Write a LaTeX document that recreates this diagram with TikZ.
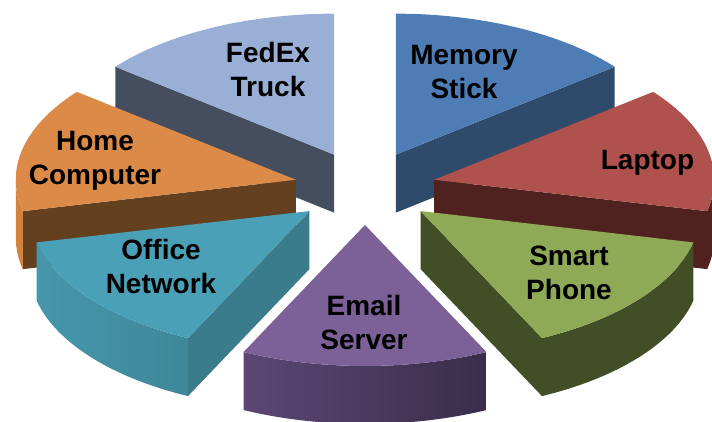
\documentclass[tikz,border=0pt]{standalone}
\usepackage{fontspec}
\setmainfont{Liberation Sans}

% slice colours: top face, cut face, rim
\definecolor{memtop}{HTML}{4E7DB6}
\definecolor{memcut}{HTML}{2F4B6C}
\definecolor{laptop}{HTML}{AF514C}
\definecolor{lapcut}{HTML}{50221F}
\definecolor{smarttop}{HTML}{8FAA57}
\definecolor{smartcut}{HTML}{414E26}
\definecolor{mailtop}{HTML}{7C6198}
\definecolor{mailrimA}{HTML}{5B4774}
\definecolor{mailrimB}{HTML}{3A2D4A}
\definecolor{offtop}{HTML}{4AA1B7}
\definecolor{offcut}{HTML}{3B7C8C}
\definecolor{offrimA}{HTML}{4597AC}
\definecolor{offrimB}{HTML}{3A7A8A}
\definecolor{hometop}{HTML}{DB8A47}
\definecolor{homecut}{HTML}{64401F}
\definecolor{homerim}{HTML}{D2833F}
\definecolor{fedtop}{HTML}{9AAFD5}
\definecolor{fedcut}{HTML}{454E5E}

% pie height (in pt); radii are 280 and 141
\def\pieh{58}

\begin{document}
\begin{tikzpicture}[x=1pt, y=1pt, x radius=280, y radius=141,
    lbl/.style={font=\bfseries\fontsize{28}{34}\selectfont, align=center, text=black}]
    \useasboundingbox (-365,-234) rectangle (347,188);

    % apex of each slice, pushed out along its middle angle
    \coordinate (mem)   at (64.286:71 and 37);
    \coordinate (lap)   at (12.857:71 and 37);
    \coordinate (smart) at (-38.571:71 and 37);
    \coordinate (mail)  at (-90:71 and 37);
    \coordinate (off)   at (-141.429:71 and 37);
    \coordinate (home)  at (167.143:71 and 37);
    \coordinate (fed)   at (115.714:71 and 37);

    % Memory Stick
    \fill[memcut] (mem) -- ++(38.571:280 and 141) -- ++(0,-\pieh) -- ([yshift=-\pieh pt]mem) -- cycle;
    \fill[memtop] (mem) -- ++(90:280 and 141) arc[start angle=90, end angle=38.571] -- cycle;

    % FedEx Truck
    \fill[fedcut] (fed) -- ++(141.429:280 and 141) -- ++(0,-\pieh) -- ([yshift=-\pieh pt]fed) -- cycle;
    \fill[fedtop] (fed) -- ++(141.429:280 and 141) arc[start angle=141.429, end angle=90] -- cycle;

    % Laptop
    \fill[lapcut] (lap) -- ++(-12.857:280 and 141) -- ++(0,-\pieh) -- ([yshift=-\pieh pt]lap) -- cycle;
    \fill[lapcut] (lap) ++(0:280 and 141) arc[start angle=0, end angle=-12.857]
        -- ++(0,-\pieh) arc[start angle=-12.857, end angle=0] -- cycle;
    \fill[laptop] (lap) -- ++(38.571:280 and 141) arc[start angle=38.571, end angle=-12.857] -- cycle;

    % Home Computer
    \fill[homecut] (home) -- ++(192.857:280 and 141) -- ++(0,-\pieh) -- ([yshift=-\pieh pt]home) -- cycle;
    \fill[homerim] (home) ++(192.857:280 and 141) arc[start angle=192.857, end angle=180]
        -- ++(0,-\pieh) arc[start angle=180, end angle=192.857] -- cycle;
    \fill[hometop] (home) -- ++(192.857:280 and 141) arc[start angle=192.857, end angle=141.429] -- cycle;

    % Office Network
    \fill[offcut] (off) -- ++(-115.714:280 and 141) -- ++(0,-\pieh) -- ([yshift=-\pieh pt]off) -- cycle;
    \path[left color=offrimA, right color=offrimB] (off) ++(-115.714:280 and 141)
        arc[start angle=-115.714, end angle=-167.143]
        -- ++(0,-\pieh) arc[start angle=-167.143, end angle=-115.714] -- cycle;
    \fill[offtop] (off) -- ++(-115.714:280 and 141) arc[start angle=-115.714, end angle=-167.143] -- cycle;

    % Smart Phone
    \fill[smartcut] (smart) -- ++(-64.286:280 and 141) -- ++(0,-\pieh) -- ([yshift=-\pieh pt]smart) -- cycle;
    \fill[smartcut] (smart) ++(-12.857:280 and 141) arc[start angle=-12.857, end angle=-64.286]
        -- ++(0,-\pieh) arc[start angle=-64.286, end angle=-12.857] -- cycle;
    \fill[smarttop] (smart) -- ++(-12.857:280 and 141) arc[start angle=-12.857, end angle=-64.286] -- cycle;

    % Email Server
    \path[left color=mailrimA, right color=mailrimB] (mail) ++(-64.286:280 and 141)
        arc[start angle=-64.286, end angle=-115.714]
        -- ++(0,-\pieh) arc[start angle=-115.714, end angle=-64.286] -- cycle;
    \fill[mailtop] (mail) -- ++(-64.286:280 and 141) arc[start angle=-64.286, end angle=-115.714] -- cycle;

    % Labels
    \node[lbl] (memlbl)   at (99,115.5)   {Memory\\Stick};
    \node[lbl] (laplbl)   at (282.5,25.5) {Laptop};
    \node[lbl] (smartlbl) at (204,-84.5)  {Smart\\Phone};
    \node[lbl] (maillbl)  at (-1,-134)    {Email\\Server};
    \node[lbl] (offlbl)   at (-204,-78)   {Office\\Network};
    \node[lbl] (homelbl)  at (-270,27.5)  {Home\\Computer};
    \node[lbl] (fedlbl)   at (-97,118.5)  {FedEx\\Truck};
\end{tikzpicture}
\end{document}
